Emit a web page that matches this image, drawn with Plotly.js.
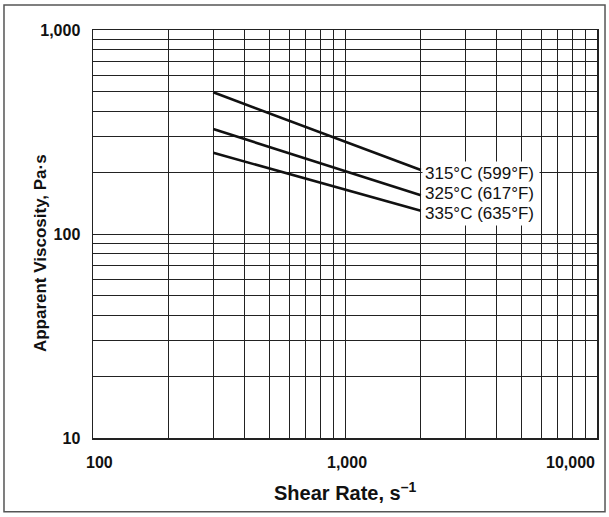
<!DOCTYPE html>
<html>
<head>
<meta charset="utf-8">
<script src="https://cdn.plot.ly/plotly-3.0.1.min.js"></script>
<style>
html,body{margin:0;padding:0;background:#fff;}
#chart{width:609px;height:517px;}
</style>
</head>
<body>
<div id="chart"></div>
<script>
// Data
const shearRate = [300, 2000];
const visc315 = [495, 206];
const visc325 = [327, 155];
const visc335 = [250, 130];
const seriesLabels = ["315°C (599°F)", "325°C (617°F)", "335°C (635°F)"];

// Gridline positions and tick labels
const xGrid = [100,200,300,400,500,600,700,800,900,1000,2000,3000,4000,5000,6000,7000,8000,9000,10000];
const yGrid = [10,20,30,40,50,60,70,80,90,100,200,300,400,500,600,700,800,900,1000];
const xTickVals = [100, 1000, 10000];
const xTickText = ["100", "1,000", "10,000"];
const yTickText = {10: "10", 100: "100", 1000: "1,000"};
const xTitle = "Shear Rate, s<sup>–1</sup>";
const yTitle = "Apparent Viscosity, Pa·s";

const FONT = "Liberation Sans, Arial, sans-serif";
const lineStyle = {color: "#111", width: 2.6};
const traces = [visc315, visc325, visc335].map((v, i) => ({
  x: shearRate, y: v, type: "scatter", mode: "lines",
  line: lineStyle, name: seriesLabels[i], hoverinfo: "skip"
}));

const tickFont = {family: FONT, size: 16, color: "#111"};

const annotations = [];
// x tick labels
const xAnch = ["center", "center", "right"];
const xShift = [6, 2, 0];
xTickVals.forEach((v, i) => {
  annotations.push({
    x: Math.log10(v), y: 0, xref: "x", yref: "paper",
    text: "<b>" + xTickText[i] + "</b>", showarrow: false,
    xanchor: xAnch[i], yanchor: "top", yshift: -14, xshift: xShift[i],
    font: tickFont
  });
});
// series labels, stacked at the end of the lines
seriesLabels.forEach((t, i) => {
  annotations.push({
    x: Math.log10(shearRate[1]), y: Math.log10(visc325[1]), xref: "x", yref: "y",
    text: t, showarrow: false, align: "left", width: 112,
    xanchor: "left", yanchor: "middle", xshift: 1, yshift: 2 + (1 - i) * 20,
    bgcolor: "#fff", borderpad: 2,
    font: {family: FONT, size: 17, color: "#111"}
  });
});
// axis titles
annotations.push({
  x: 0.5, y: -0.13, xref: "paper", yref: "paper", text: "<b>" + xTitle + "</b>",
  showarrow: false, xanchor: "center", yanchor: "middle",
  font: {family: FONT, size: 20, color: "#111"}
});
annotations.push({
  x: -0.105, y: 0.5, xref: "paper", yref: "paper", text: "<b>" + yTitle + "</b>",
  showarrow: false, xanchor: "center", yanchor: "middle", textangle: -90, yshift: -19,
  font: {family: FONT, size: 17, color: "#111"}
});

const layout = {
  width: 609, height: 517,
  margin: {l: 93, r: 12, t: 30, b: 79},
  paper_bgcolor: "#fff", plot_bgcolor: "#fff",
  showlegend: false,
  xaxis: {
    type: "log", range: [2, 4],
    tickvals: xGrid, ticktext: xGrid.map(() => ""),
    showgrid: true, gridcolor: "#222", gridwidth: 1,
    ticks: "", showline: true, linecolor: "#222", linewidth: 1.5, mirror: true,
    zeroline: false
  },
  yaxis: {
    type: "log", range: [1, 3],
    tickvals: yGrid, ticktext: yGrid.map(v => yTickText[v] ? "<b>" + yTickText[v] + "</b>" : ""),
    tickfont: tickFont,
    showgrid: true, gridcolor: "#222", gridwidth: 1,
    ticks: "", ticklabelstandoff: 8,
    showline: true, linecolor: "#222", linewidth: 1.5, mirror: true,
    zeroline: false
  },
  annotations: annotations,
  shapes: [{
    type: "rect", xref: "paper", yref: "paper",
    x0: -0.1766, x1: 1.0159, y0: -0.181, y1: 1.061,
    line: {color: "#555", width: 1.5}, fillcolor: "rgba(0,0,0,0)", layer: "below"
  }]
};

Plotly.newPlot("chart", traces, layout, {staticPlot: true, displayModeBar: false});
</script>
</body>
</html>
